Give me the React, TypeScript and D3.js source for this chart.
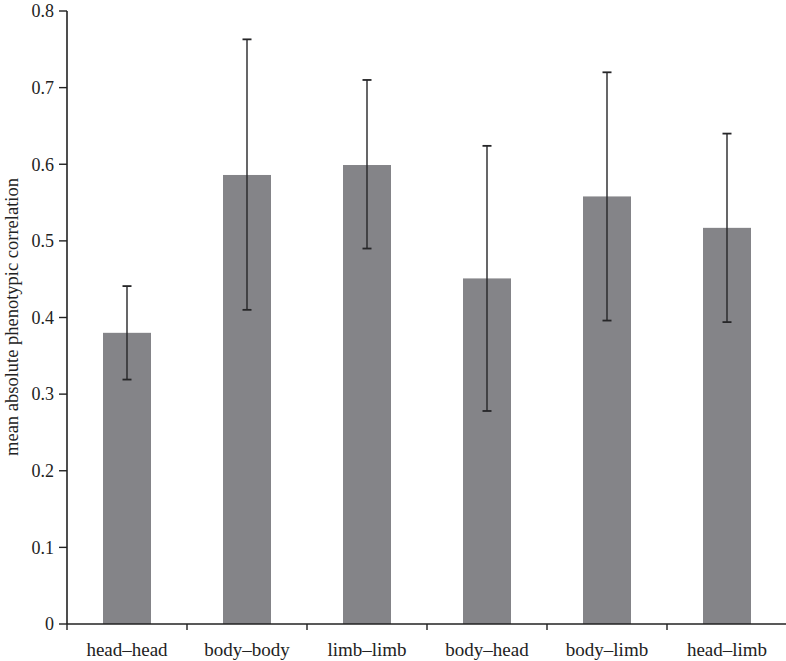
import React from "react";
import * as d3 from "d3";

const categories = ["head–head", "body–body", "limb–limb", "body–head", "body–limb", "head–limb"];
const means = [0.38, 0.586, 0.599, 0.451, 0.558, 0.517];
const errLow = [0.319, 0.41, 0.49, 0.278, 0.396, 0.394];
const errHigh = [0.441, 0.763, 0.71, 0.624, 0.72, 0.64];
const yTicks = [0, 0.1, 0.2, 0.3, 0.4, 0.5, 0.6, 0.7, 0.8];
const yTickLabels = ["0", "0.1", "0.2", "0.3", "0.4", "0.5", "0.6", "0.7", "0.8"];

const W = 786;
const H = 661;
const left = 67;
const right = 787;
const top = 11;
const bottom = 624;

export default function App() {
  const x = d3.scaleBand<string>().domain(categories).range([left, right]).paddingInner(0).paddingOuter(0);
  const y = d3.scaleLinear().domain([0, 0.8]).range([bottom, top]);
  const bw = x.bandwidth() * 0.4;
  const font = "'Liberation Serif', 'Times New Roman', serif";
  return (
    <svg width={W} height={H} style={{ position: "absolute", left: 0, top: 0, background: "#fff" }}>
      <defs>
        <filter id="soft" x="-10%" y="-10%" width="120%" height="120%">
          <feGaussianBlur stdDeviation="0.7" />
        </filter>
      </defs>
      {categories.map((c, i) => {
        const cx = (x(c) as number) + x.bandwidth() / 2;
        return (
          <rect key={c} x={cx - bw / 2} y={y(means[i])} width={bw} height={bottom - y(means[i])} fill="#848488" filter="url(#soft)" />
        );
      })}
      {categories.map((c, i) => {
        const cx = (x(c) as number) + x.bandwidth() / 2;
        return (
          <g key={"e" + c} stroke="#262628">
            <line x1={cx} x2={cx} y1={y(errLow[i])} y2={y(errHigh[i])} strokeWidth={1.4} />
            <line x1={cx - 4.5} x2={cx + 4.5} y1={y(errLow[i])} y2={y(errLow[i])} strokeWidth={1.8} />
            <line x1={cx - 4.5} x2={cx + 4.5} y1={y(errHigh[i])} y2={y(errHigh[i])} strokeWidth={1.8} />
          </g>
        );
      })}
      {/* y axis */}
      <line x1={left} x2={left} y1={top} y2={bottom} stroke="#222" strokeWidth={1.6} />
      {yTicks.map((t, i) => (
        <g key={"yt" + t}>
          <line x1={left - 8} x2={left} y1={y(t)} y2={y(t)} stroke="#222" strokeWidth={1.4} />
          <text x={left - 13} y={y(t)} dy="0.35em" textAnchor="end" fontFamily={font} fontSize={18} fill="#222">
            {yTickLabels[i]}
          </text>
        </g>
      ))}
      {/* x axis */}
      <line x1={left} x2={W} y1={bottom} y2={bottom} stroke="#222" strokeWidth={1.6} />
      {categories.map((c) => (
        <line key={"xt" + c} x1={x(c) as number} x2={x(c) as number} y1={bottom} y2={bottom + 6} stroke="#222" strokeWidth={1.4} />
      ))}
      {categories.map((c) => (
        <text key={"xl" + c} x={(x(c) as number) + x.bandwidth() / 2} y={656} textAnchor="middle" fontFamily={font} fontSize={19} fill="#222">
          {c}
        </text>
      ))}
      <text transform={`translate(18, ${317}) rotate(-90)`} textAnchor="middle" fontFamily={font} fontSize={18.5} fill="#222">
        mean absolute phenotypic correlation
      </text>
    </svg>
  );
}
